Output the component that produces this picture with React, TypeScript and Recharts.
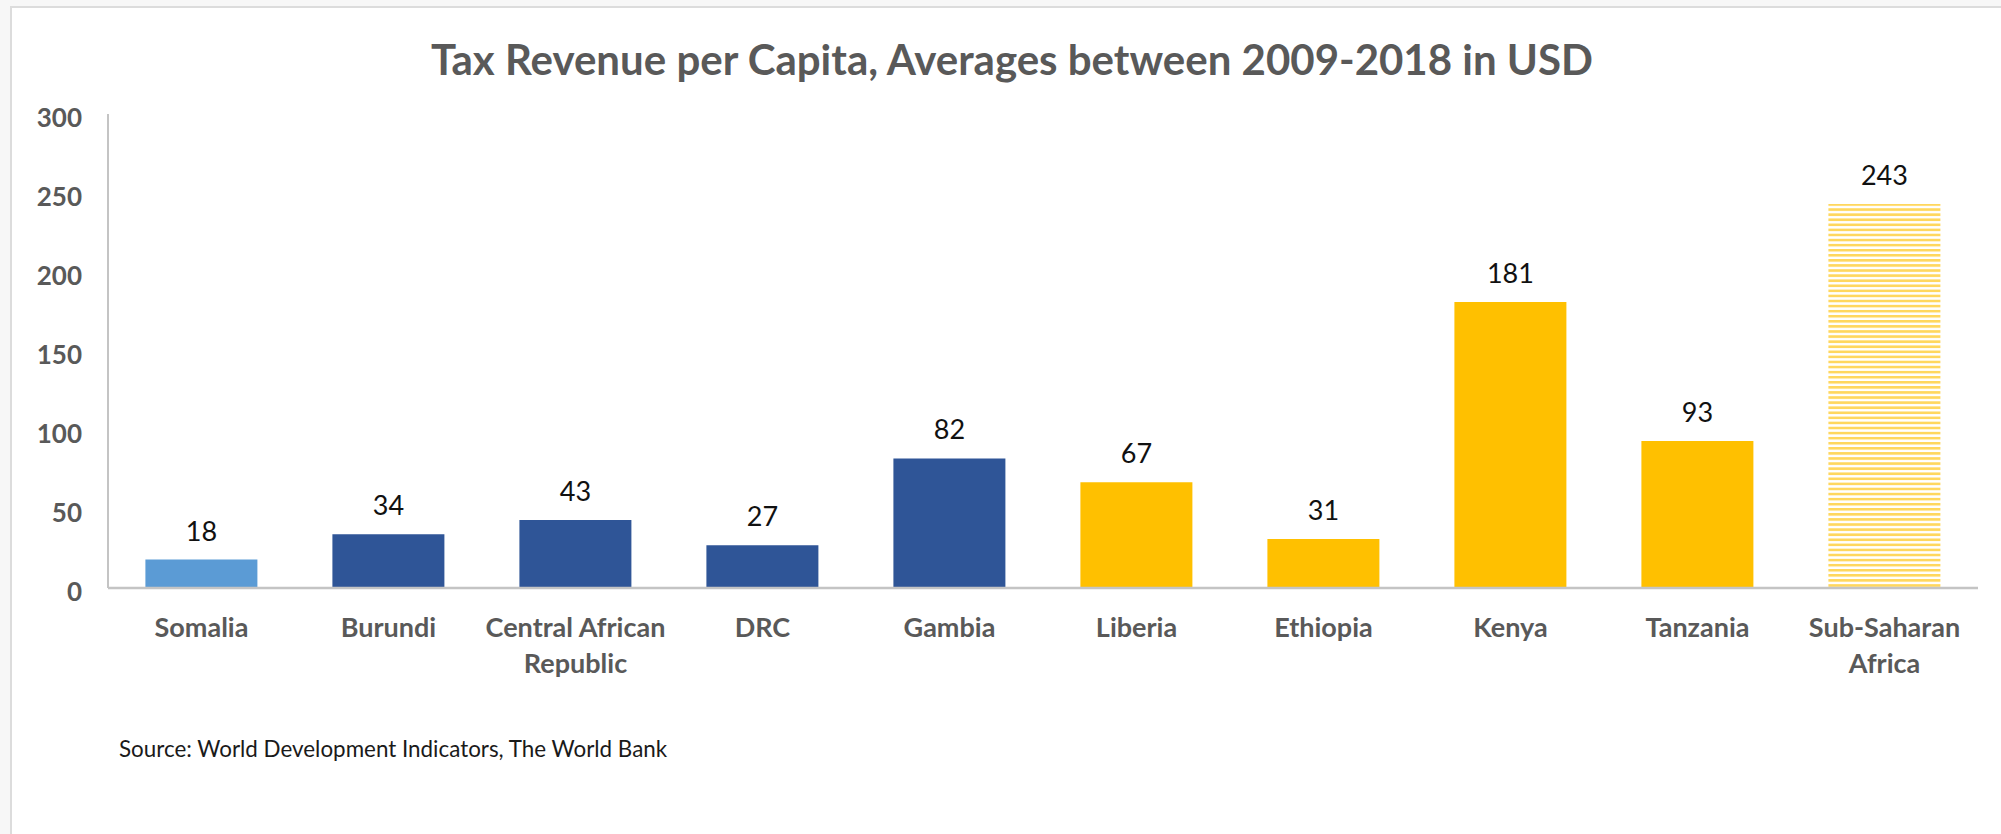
import React from "react";
import { BarChart, Bar, XAxis, YAxis, Cell, LabelList } from "recharts";

const CATEGORIES = [
  "Somalia",
  "Burundi",
  "Central African Republic",
  "DRC",
  "Gambia",
  "Liberia",
  "Ethiopia",
  "Kenya",
  "Tanzania",
  "Sub-Saharan Africa",
];
const CATEGORY_LINES: string[][] = [
  ["Somalia"],
  ["Burundi"],
  ["Central African", "Republic"],
  ["DRC"],
  ["Gambia"],
  ["Liberia"],
  ["Ethiopia"],
  ["Kenya"],
  ["Tanzania"],
  ["Sub-Saharan", "Africa"],
];
const VALUES = [18, 34, 43, 27, 82, 67, 31, 181, 93, 243];
const Y_TICKS = [0, 50, 100, 150, 200, 250, 300];
const TITLE = "Tax Revenue per Capita, Averages between 2009-2018 in USD";
const SOURCE = "Source: World Development Indicators, The World Bank";

const BAR_FILLS = [
  "#5B9BD5",
  "#2F5597",
  "#2F5597",
  "#2F5597",
  "#2F5597",
  "#FFC000",
  "#FFC000",
  "#FFC000",
  "#FFC000",
  "url(#ssaStripes)",
];

const data = CATEGORIES.map((c, i) => ({ name: c, value: VALUES[i], idx: i }));

const FONT = "Lato, 'Open Sans', sans-serif";
const GRAY = "#595959";

const XTick = (props: any) => {
  const { x, y, index } = props;
  const lines = CATEGORY_LINES[index] || [];
  return (
    <g>
      {lines.map((l, i) => (
        <text
          key={i}
          x={x}
          y={y + 49 + i * 36}
          textAnchor="middle"
          fontFamily={FONT}
          fontWeight={700}
          fontSize={27}
          fill={GRAY}
        >
          {l}
        </text>
      ))}
    </g>
  );
};

const YTick = (props: any) => {
  const { x, y, payload } = props;
  return (
    <text
      x={x}
      y={y + 13}
      textAnchor="end"
      fontFamily={FONT}
      fontWeight={700}
      fontSize={26}
      fill={GRAY}
    >
      {payload.value}
    </text>
  );
};

const ValueLabel = (props: any) => {
  const { x, y, width, value } = props;
  return (
    <text
      x={x + width / 2}
      y={y - 19}
      textAnchor="middle"
      fontFamily={FONT}
      fontWeight={400}
      fontSize={27}
      fill="#111111"
    >
      {value}
    </text>
  );
};

export default function App() {
  return (
    <div
      style={{
        position: "absolute",
        left: 0,
        top: 0,
        width: 2001,
        height: 834,
        background: "#f7f7f7",
        overflow: "hidden",
      }}
    >
      <div
        style={{
          position: "absolute",
          left: 10,
          top: 6,
          width: 1995,
          height: 834,
          background: "#ffffff",
          borderLeft: "2px solid #dcdcdc",
          borderTop: "2px solid #dcdcdc",
        }}
      />
      <div style={{ position: "absolute", left: 0, top: 0 }}>
        <BarChart
          width={2001}
          height={834}
          data={data}
          margin={{ top: 114, right: 23, bottom: 186, left: 48 }}
          barCategoryGap="20%"
        >
          <defs>
            <pattern id="ssaStripes" patternUnits="userSpaceOnUse" width={10} height={5.08}>
              <rect x={0} y={0} width={10} height={5.08} fill="#ffffff" />
              <rect x={0} y={0} width={10} height={2.6} fill="#FFD75E" />
            </pattern>
          </defs>
          <text
            x={1012}
            y={75}
            textAnchor="middle"
            fontFamily={FONT}
            fontWeight={700}
            fontSize={42}
            fill={GRAY}
          >
            {TITLE}
          </text>
          <text
            x={119}
            y={757}
            textAnchor="start"
            fontFamily={FONT}
            fontWeight={400}
            fontSize={22.4}
            fill="#1a1a1a"
          >
            {SOURCE}
          </text>
          <XAxis
            dataKey="name"
            height={60}
            interval={0}
            tickLine={false}
            tickSize={0}
            tickMargin={0}
            axisLine={{ stroke: "#c4c4c4", strokeWidth: 2.5 }}
            tick={<XTick />}
          />
          <YAxis
            width={60}
            domain={[0, 300]}
            ticks={Y_TICKS}
            tickLine={false}
            tickSize={0}
            tickMargin={26}
            axisLine={{ stroke: "#c4c4c4", strokeWidth: 2 }}
            tick={<YTick />}
          />
          <Bar dataKey="value" isAnimationActive={false}>
            {data.map((d, i) => (
              <Cell key={d.name} fill={BAR_FILLS[i]} />
            ))}
            <LabelList dataKey="value" content={<ValueLabel />} />
          </Bar>
        </BarChart>
      </div>
    </div>
  );
}
